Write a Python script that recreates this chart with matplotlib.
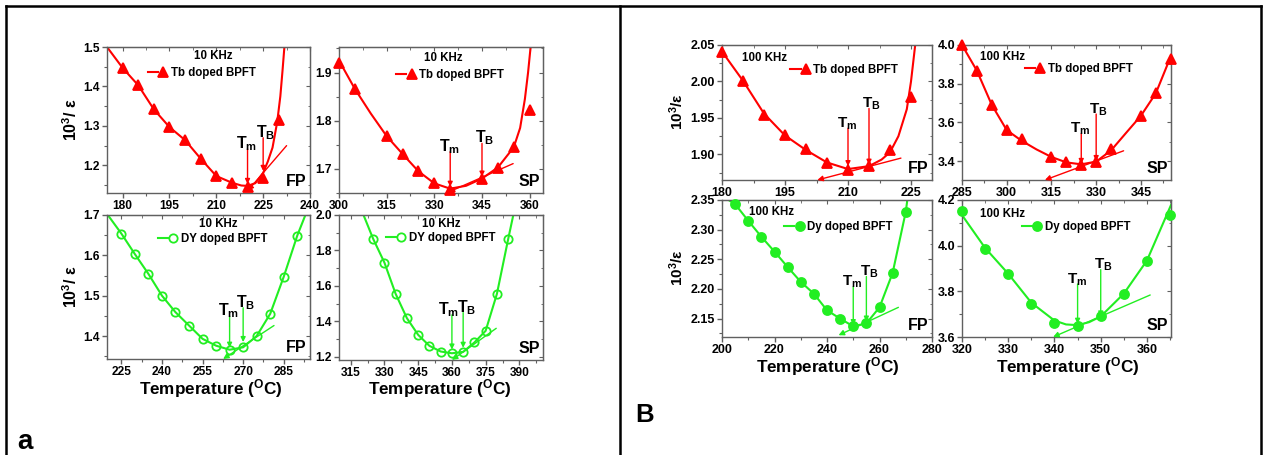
import matplotlib.pyplot as plt
from matplotlib.legend_handler import HandlerTuple
from matplotlib.lines import Line2D
from matplotlib.ticker import MultipleLocator, FormatStrFormatter, AutoMinorLocator

plt.rcParams['font.family'] = ['Liberation Sans', 'DejaVu Sans']
plt.rcParams['font.weight'] = 'bold'
plt.rcParams['mathtext.fontset'] = 'custom'
plt.rcParams['mathtext.rm'] = 'Liberation Sans:bold'
plt.rcParams['mathtext.it'] = 'Liberation Sans:bold'
plt.rcParams['mathtext.bf'] = 'Liberation Sans:bold'
plt.rcParams['mathtext.sf'] = 'Liberation Sans:bold'

RED = '#ff0000'
GREEN = '#22ee22'
SPINE = '#606060'

# ---------------- data ----------------
# panel a, 10 KHz, Tb doped, first transition (FP)
tb10_fp_T = [180, 185, 190, 195, 200, 205, 210, 215, 220, 225, 230]
tb10_fp_y = [1.447, 1.403, 1.342, 1.297, 1.264, 1.217, 1.173, 1.156, 1.144, 1.167, 1.315]
tb10_fp_fitT = [175, 180, 185, 190, 195, 200, 205, 210, 215, 218, 220, 222.5, 225, 226.5, 228, 229.5, 230.5, 231.2, 231.8]
tb10_fp_fit = [1.5, 1.447, 1.403, 1.342, 1.297, 1.264, 1.217, 1.173, 1.156, 1.149, 1.148, 1.155, 1.181, 1.21, 1.245, 1.31, 1.375, 1.44, 1.5]

# panel a, 10 KHz, Tb doped, second transition (SP)
tb10_sp_T = [300, 305, 315, 320, 325, 330, 335, 345, 350, 355, 360]
tb10_sp_y = [1.919, 1.866, 1.768, 1.731, 1.695, 1.671, 1.657, 1.680, 1.702, 1.745, 1.822]
tb10_sp_fitT = [300, 305, 310, 315, 320, 325, 330, 335, 340, 345, 350, 355, 357, 358.5, 359.5, 360.3]
tb10_sp_fit = [1.925, 1.866, 1.815, 1.768, 1.731, 1.695, 1.670, 1.659, 1.665, 1.680, 1.703, 1.745, 1.785, 1.845, 1.9, 1.953]

# panel a, 10 KHz, Dy doped, FP
dy10_fp_T = [225, 230, 235, 240, 245, 250, 255, 260, 265, 270, 275, 280, 285, 290]
dy10_fp_y = [1.654, 1.603, 1.554, 1.500, 1.459, 1.426, 1.393, 1.376, 1.366, 1.372, 1.400, 1.455, 1.547, 1.649]
dy10_fp_fitT = [220] + dy10_fp_T + [293]
dy10_fp_fit = [1.7] + dy10_fp_y + [1.7]

# panel a, 10 KHz, Dy doped, SP
dy10_sp_T = [325, 330, 335, 340, 345, 350, 355, 360, 365, 370, 375, 380, 385]
dy10_sp_y = [1.865, 1.731, 1.554, 1.417, 1.323, 1.261, 1.229, 1.219, 1.227, 1.280, 1.346, 1.554, 1.863]
dy10_sp_fitT = [320.7] + dy10_sp_T + [387.3]
dy10_sp_fit = [2.0] + dy10_sp_y + [2.0]

# panel B, 100 KHz, Tb doped, FP
tb100_fp_T = [180, 185, 190, 195, 200, 205, 210, 215, 220, 225]
tb100_fp_y = [2.041, 2.001, 1.954, 1.926, 1.908, 1.888, 1.879, 1.884, 1.906, 1.979]
tb100_fp_fitT = [180, 185, 190, 195, 200, 205, 210, 215, 218, 220, 222, 224, 225, 226]
tb100_fp_fit = [2.041, 2.001, 1.956, 1.926, 1.906, 1.889, 1.880, 1.884, 1.893, 1.903, 1.925, 1.962, 2.0, 2.05]

# panel B, 100 KHz, Tb doped, SP
tb100_sp_T = [285, 290, 295, 300, 305, 315, 320, 325, 330, 335, 345, 350, 355]
tb100_sp_y = [4.0, 3.867, 3.69, 3.56, 3.512, 3.421, 3.393, 3.379, 3.397, 3.46, 3.634, 3.75, 3.926]
tb100_sp_fitT = [285, 290, 295, 300, 305, 310, 315, 320, 325, 330, 335, 340, 345, 350, 355]
tb100_sp_fit = [4.0, 3.867, 3.69, 3.56, 3.505, 3.46, 3.421, 3.393, 3.383, 3.397, 3.455, 3.545, 3.634, 3.75, 3.94]

# panel B, 100 KHz, Dy doped, FP
dy100_fp_T = [205, 210, 215, 220, 225, 230, 235, 240, 245, 250, 255, 260, 265, 270]
dy100_fp_y = [2.343, 2.315, 2.288, 2.263, 2.237, 2.212, 2.192, 2.164, 2.150, 2.137, 2.142, 2.169, 2.227, 2.330]
dy100_fp_fitT = [202.5] + dy100_fp_T + [270.6]
dy100_fp_fit = [2.35] + dy100_fp_y + [2.35]

# panel B, 100 KHz, Dy doped, SP
dy100_sp_T = [320, 325, 330, 335, 340, 345, 350, 355, 360, 365]
dy100_sp_y = [4.151, 3.985, 3.877, 3.745, 3.660, 3.648, 3.690, 3.788, 3.935, 4.134]
dy100_sp_fitT = [320, 325, 330, 335, 340, 342.5, 345, 347.5, 350, 355, 360, 365.2]
dy100_sp_fit = [4.134, 3.99, 3.877, 3.75, 3.672, 3.655, 3.652, 3.665, 3.69, 3.79, 3.935, 4.178]

# Tm / TB temperatures per plot
Tm_vals = [220, 335, 265, 360, 210, 325, 250, 345]
TB_vals = [225, 345, 270, 365, 215, 330, 255, 350]

# ---------------- figure ----------------
W, H = 1263, 455
fig = plt.figure(figsize=(W / 100, H / 100), dpi=100)


def axes_px(x0, y0, x1, y1):
    return fig.add_axes([x0 / W, 1 - y1 / H, (x1 - x0) / W, (y1 - y0) / H])


panels = [
    dict(box=(107, 47, 310, 193), T=tb10_fp_T, y=tb10_fp_y, fT=tb10_fp_fitT, f=tb10_fp_fit,
         c=RED, m='^', ms=7, mfc=RED, lab='Tb doped BPFT', freq='10 KHz', fpos=(0.525, 0.935, 'center'),
         lpos=(0.20, 0.82), xlim=(175, 240), ylim=(1.13, 1.5), xs=15, ys=0.1, fmt='%.1f',
         tan=((232.5, 1.25), (220.1, 1.136)), tm=(1.242, 1.153), tb=(1.27, 1.186), tag='FP', big=False,
         gap=(-0.5, 1.8)),
    dict(box=(339, 47, 543, 193), T=tb10_sp_T, y=tb10_sp_y, fT=tb10_sp_fitT, f=tb10_sp_fit,
         c=RED, m='^', ms=7, mfc=RED, lab='Tb doped BPFT', freq='10 KHz', fpos=(0.51, 0.925, 'center'),
         lpos=(0.28, 0.81), xlim=(300, 364.2), ylim=(1.65, 1.953), xs=15, ys=0.1, fmt='%.1f',
         tan=((354.8, 1.711), (334.5, 1.652)), tm=(1.736, 1.663), tb=(1.753, 1.684), tag='SP', big=False,
         gap=(-0.5, 1.8)),
    dict(box=(107, 215, 310, 359), T=dy10_fp_T, y=dy10_fp_y, fT=dy10_fp_fitT, f=dy10_fp_fit,
         c=GREEN, m='o', ms=6, mfc='none', lab='DY doped BPFT', freq='10 KHz', fpos=(0.55, 0.935, 'center'),
         lpos=(0.25, 0.83), xlim=(219.7, 294.7), ylim=(1.343, 1.7), xs=15, ys=0.1, fmt='%.1f',
         tan=((281.4, 1.426), (262.6, 1.343)), tm=(1.449, 1.371), tb=(1.47, 1.385), tag='FP', big=False,
         gap=(-0.5, 1.8)),
    dict(box=(339, 215, 543, 360), T=dy10_sp_T, y=dy10_sp_y, fT=dy10_sp_fitT, f=dy10_sp_fit,
         c=GREEN, m='o', ms=6, mfc='none', lab='DY doped BPFT', freq='10 KHz', fpos=(0.50, 0.935, 'center'),
         lpos=(0.23, 0.84), xlim=(309.8, 400.5), ylim=(1.181, 2.0), xs=15, ys=0.2, fmt='%.1f',
         tan=((379.7, 1.36), (360, 1.181)), tm=(1.436, 1.24), tb=(1.449, 1.25), tag='SP', big=False,
         gap=(-2.2, 2.8)),
    dict(box=(722, 45, 932, 180), T=tb100_fp_T, y=tb100_fp_y, fT=tb100_fp_fitT, f=tb100_fp_fit,
         c=RED, m='^', ms=7, mfc=RED, lab='Tb doped BPFT', freq='100 KHz', fpos=(0.095, 0.905, 'left'),
         lpos=(0.325, 0.815), xlim=(180, 230), ylim=(1.865, 2.05), xs=15, ys=0.05, fmt='%.2f',
         tan=((222.6, 1.895), (202.7, 1.865)), tm=(1.936, 1.884), tb=(1.963, 1.886), tag='FP', big=True,
         gap=(-0.5, 1.8)),
    dict(box=(962, 45, 1171, 180), T=tb100_sp_T, y=tb100_sp_y, fT=tb100_sp_fitT, f=tb100_sp_fit,
         c=RED, m='^', ms=7, mfc=RED, lab='Tb doped BPFT', freq='100 KHz', fpos=(0.085, 0.91, 'left'),
         lpos=(0.30, 0.82), xlim=(285, 355.1), ylim=(3.302, 4.0), xs=15, ys=0.2, fmt='%.1f',
         tan=((339.2, 3.453), (312.8, 3.302)), tm=(3.543, 3.385), tb=(3.643, 3.40), tag='SP', big=True,
         gap=(-0.5, 1.8)),
    dict(box=(722, 200, 932, 337), T=dy100_fp_T, y=dy100_fp_y, fT=dy100_fp_fitT, f=dy100_fp_fit,
         c=GREEN, m='o', ms=6.5, mfc=GREEN, lab='Dy doped BPFT', freq='100 KHz', fpos=(0.13, 0.915, 'left'),
         lpos=(0.295, 0.805), xlim=(200, 280), ylim=(2.119, 2.35), xs=20, ys=0.05, fmt='%.2f',
         tan=((267.2, 2.169), (244.4, 2.122)), tm=(2.204, 2.139), tb=(2.221, 2.145), tag='FP', big=True,
         gap=(-0.5, 1.8)),
    dict(box=(962, 200, 1171, 337), T=dy100_sp_T, y=dy100_sp_y, fT=dy100_sp_fitT, f=dy100_sp_fit,
         c=GREEN, m='o', ms=6.5, mfc=GREEN, lab='Dy doped BPFT', freq='100 KHz', fpos=(0.085, 0.897, 'left'),
         lpos=(0.285, 0.80), xlim=(320, 365.2), ylim=(3.6, 4.2), xs=10, ys=0.2, fmt='%.1f',
         tan=((360.7, 3.784), (339.7, 3.6)), tm=(3.832, 3.658), tb=(3.895, 3.69), tag='SP', big=True,
         gap=(-0.5, 1.8)),
]

for i, p in enumerate(panels):
    ax = axes_px(*p['box'])
    c = p['c']
    fit_line, = ax.plot(p['fT'], p['f'], color=c, lw=1.5, zorder=2, clip_on=True)
    pts, = ax.plot(p['T'], p['y'], ls='none', marker=p['m'], ms=p['ms'], color=c,
                   mfc=p['mfc'], mec=c, mew=1.3, zorder=3, clip_on=False)
    ax.set_xlim(*p['xlim'])
    ax.set_ylim(*p['ylim'])

    # tangent line with arrow head
    ax.annotate('', xy=p['tan'][1], xytext=p['tan'][0], annotation_clip=False,
                arrowprops=dict(arrowstyle='-|>', color=c, lw=1.0, mutation_scale=8,
                                shrinkA=0, shrinkB=0))
    # Tm and TB arrows
    for lbl, xv, (top, tip), dx in ((r'$T_m$', Tm_vals[i], p['tm'], p['gap'][0]),
                                    (r'$T_B$', TB_vals[i], p['tb'], p['gap'][1])):
        ax.annotate('', xy=(xv, tip), xytext=(xv, top), annotation_clip=False,
                    arrowprops=dict(arrowstyle='-|>', color=c, lw=1.0, mutation_scale=7,
                                    shrinkA=0, shrinkB=0))
        ax.annotate(lbl, xy=(xv, top), xytext=(dx, 0.5), textcoords='offset points',
                    ha='center', va='baseline', fontsize=11 if p['big'] else 11.5,
                    annotation_clip=False)

    # frequency note and legend
    fx, fy, fha = p['fpos']
    ax.text(fx, fy, p['freq'], transform=ax.transAxes, ha=fha, va='center', fontsize=8.3)
    ax.legend([(fit_line, pts)], [p['lab']], handler_map={tuple: HandlerTuple(ndivide=None)},
              loc='center left', bbox_to_anchor=(p['lpos'][0], p['lpos'][1]),
              frameon=False, borderpad=0, borderaxespad=0, handlelength=1.8,
              handletextpad=0.2, numpoints=1, prop=dict(size=8.3, weight='bold'))

    ax.text(0.985, 0.03, p['tag'], transform=ax.transAxes, ha='right', va='bottom', fontsize=11.5)

    # ticks
    ax.xaxis.set_major_locator(MultipleLocator(p['xs']))
    ax.yaxis.set_major_locator(MultipleLocator(p['ys']))
    ax.xaxis.set_minor_locator(AutoMinorLocator(2))
    ax.yaxis.set_minor_locator(AutoMinorLocator(2))
    ax.yaxis.set_major_formatter(FormatStrFormatter(p['fmt']))
    lsize = 9 if p['big'] else 8.6
    ax.tick_params(which='major', direction='out', length=3.5, width=1, color=SPINE,
                   labelsize=lsize, pad=1.5)
    ax.tick_params(which='minor', direction='out', length=2, width=0.8, color=SPINE)
    for lab_ in ax.get_xticklabels() + ax.get_yticklabels():
        lab_.set_fontweight('bold')
    for s in ax.spines.values():
        s.set_color(SPINE)
        s.set_linewidth(1.0)

    # inner ticks on right and top
    sy = ax.secondary_yaxis('right')
    sy.yaxis.set_major_locator(MultipleLocator(p['ys']))
    sy.yaxis.set_minor_locator(AutoMinorLocator(2))
    sy.tick_params(which='major', direction='in', length=3, color=SPINE, labelright=False)
    sy.tick_params(which='minor', direction='in', length=1.8, color=SPINE)
    sy.spines['right'].set_color(SPINE)
    sx = ax.secondary_xaxis('top')
    sx.xaxis.set_major_locator(MultipleLocator(p['xs']))
    sx.xaxis.set_minor_locator(AutoMinorLocator(2))
    sx.tick_params(which='major', direction='in', length=3, color=SPINE, labeltop=False)
    sx.tick_params(which='minor', direction='in', length=1.8, color=SPINE)
    sx.spines['top'].set_color(SPINE)

# axis titles
ylab_a = '10$^3$/ ε'
ylab_b = '10$^3$/ε'
fig.text(71 / W, 1 - 120 / H, ylab_a, rotation=90, ha='center', va='center', fontsize=11.5)
fig.text(71 / W, 1 - 287 / H, ylab_a, rotation=90, ha='center', va='center', fontsize=11.5)
fig.text(677 / W, 1 - 112 / H, ylab_b, rotation=90, ha='center', va='center', fontsize=11)
fig.text(677 / W, 1 - 268 / H, ylab_b, rotation=90, ha='center', va='center', fontsize=11)

xlab = 'Temperature ($^O$C)'
fig.text(211 / W, 1 - 394 / H, xlab, ha='center', va='baseline', fontsize=12.3)
fig.text(440 / W, 1 - 394 / H, xlab, ha='center', va='baseline', fontsize=12.3)
fig.text(828 / W, 1 - 372 / H, xlab, ha='center', va='baseline', fontsize=12.3)
fig.text(1068 / W, 1 - 372 / H, xlab, ha='center', va='baseline', fontsize=12.3)

# panel letters
fig.text(17 / W, 1 - 449 / H, 'a', ha='left', va='baseline', fontsize=20)
fig.text(635 / W, 1 - 422 / H, 'B', ha='left', va='baseline', fontsize=18.5)

# panel frames
for xs_, ys_ in (([6, 1261], [5.5, 5.5]), ([6, 6], [5.5, 455]), ([620, 620], [5.5, 455]),
                 ([1261, 1261], [5.5, 455])):
    fig.add_artist(Line2D([v / W for v in xs_], [1 - v / H for v in ys_], color='black', lw=1.8,
                          transform=fig.transFigure))

fig.savefig('out.png', dpi=100)
